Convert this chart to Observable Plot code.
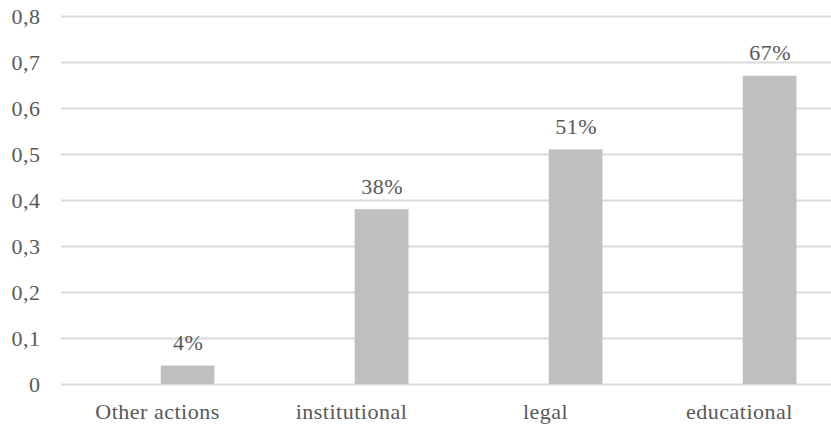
<!DOCTYPE html>
<html>
<head>
<meta charset="utf-8">
<script src="https://cdn.jsdelivr.net/npm/d3@7"></script>
<script src="https://cdn.jsdelivr.net/npm/@observablehq/plot@0.6"></script>
<style>
  body { margin: 0; background: #fff; }
</style>
</head>
<body>
<div id="chart"></div>
<script>
// Share of respondents naming each type of action
const categories = ["Other actions", "institutional", "legal", "educational"];
const shares = [0.04, 0.38, 0.51, 0.67];

// Value axis ticks and their comma-decimal labels
const yTicks = [0, 0.1, 0.2, 0.3, 0.4, 0.5, 0.6, 0.7, 0.8];
const yTickLabels = ["0", "0,1", "0,2", "0,3", "0,4", "0,5", "0,6", "0,7", "0,8"];

const rows = categories.map((category, i) => ({category, share: shares[i]}));

const W = 831, H = 425;
const mLeft = 61, mTop = 16, mBottom = 41;
const step = 194.9;                 // width of one category slot
const barW = 54.6;                  // bar sits in the right half of its slot
const insetL = step / 2 + 0.3;
const insetR = step - insetL - barW;
const textColor = "#595959";

const chart = Plot.plot({
  width: W,
  height: H,
  marginLeft: mLeft,
  marginRight: 0,
  marginTop: mTop,
  marginBottom: mBottom,
  style: {
    fontFamily: "'Liberation Serif', 'Times New Roman', serif",
    fontSize: "22px",
    color: textColor,
    background: "#fff",
    letterSpacing: "0.5px"
  },
  x: {domain: categories, range: [mLeft, mLeft + step * categories.length], padding: 0},
  y: {domain: [0, 0.8], range: [H - mBottom, mTop]},
  marks: [
    Plot.ruleY(yTicks, {stroke: "#d9d9d9", strokeWidth: 2}),
    Plot.barY(rows, {x: "category", y: "share", fill: "#bfbfbf", insetLeft: insetL, insetRight: insetR}),
    Plot.text(rows, {
      x: "category", y: "share",
      text: d => Math.round(d.share * 100) + "%",
      dx: insetL + barW / 2 - step / 2,
      lineAnchor: "bottom", dy: -16,
      fill: textColor
    }),
    Plot.axisY({ticks: yTicks, tickFormat: d => yTickLabels[yTicks.indexOf(d)], tickSize: 0, tickPadding: 21, label: null}),
    Plot.axisX({tickSize: 0, tickPadding: 19, dx: -3, label: null})
  ]
});

document.getElementById("chart").appendChild(chart);
</script>
</body>
</html>
